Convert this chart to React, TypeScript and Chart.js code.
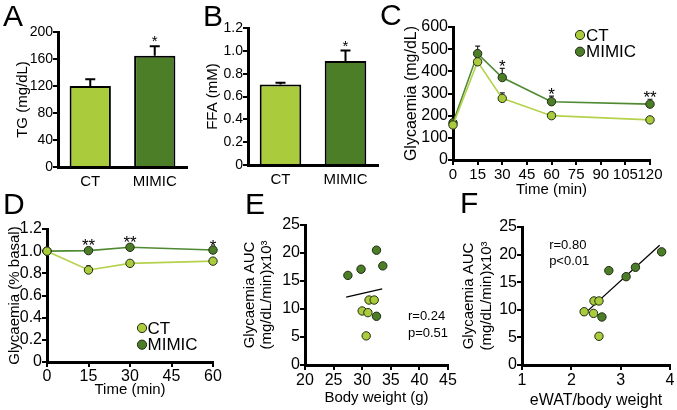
import React, { useEffect, useRef } from 'react';
import { Chart, registerables } from 'chart.js';

Chart.register(...registerables);

const FONT = '"Liberation Sans", Arial, Helvetica, sans-serif';

// ---------------- data ----------------
const groups = ['CT', 'MIMIC'];
const tgMean = [120, 165];
const tgSem = [10, 14];
const tgStars = ['', '*'];

const ffaMean = [0.705, 0.912];
const ffaSem = [0.015, 0.09];
const ffaStars = ['', '*'];

const gttTime = [0, 15, 30, 60, 120];
const gttCT = [158, 443, 278, 200, 181];
const gttCTSem = [6, 8, 25, 6, 6];
const gttMIMIC = [168, 480, 372, 263, 252];
const gttMIMICSem = [8, 34, 41, 25, 22];
const gttStars = ['', '', '*', '*', '**'];

const ittTime = [0, 15, 30, 60];
const ittCT = [1.0, 0.83, 0.89, 0.91];
const ittCTSem = [0, 0.04, 0.02, 0.015];
const ittMIMIC = [1.0, 1.005, 1.035, 1.01];
const ittMIMICSem = [0, 0.025, 0.02, 0.01];
const ittStars = ['', '**', '**', '*'];

const aucCT = [11.6, 11.6, 9.65, 9.35, 5.2];
const bwCT = [31.2, 32.1, 30.0, 31.0, 30.7];
const ewatCT = [2.46, 2.56, 2.26, 2.45, 2.56];
const aucMIMIC = [20.5, 17.7, 16.0, 17.1, 8.7];
const bwMIMIC = [32.5, 33.6, 27.5, 29.8, 32.5];
const ewatMIMIC = [3.83, 3.3, 3.11, 2.76, 2.62];
const bwFitX = [27.2, 33.5];
const bwFitY = [12.1, 13.6];
const ewatFitX = [2.22, 3.79];
const ewatFitY = [8.9, 21.7];
const bwStats = ['r=0.24', 'p=0.51'];
const ewatStats = ['r=0.80', 'p<0.01'];

// ---------------- styles ----------------
const BLACK = '#000';
const LIGHT = '#a9cb3c';
const DARK = '#4b7e27';
const LIGHT_LINE = '#b4d24c';
const DARK_LINE = '#4f8a32';
const OUTLINE = '#1f2a14';
const PT = 12;
const PR = 24;
const AXIS_W = 3;
const TICK_W = 2;
const TICK_L = 5;

const pts = (xs: number[], ys: number[]) => xs.map((x, i) => ({ x, y: ys[i] }));
const addArr = (a: number[], b: number[]) => a.map((v, i) => v + b[i]);
const dec1 = (v: any) => (Number(v) === 0 ? '0' : Number(v).toFixed(1));

function yAxis(o: any) {
  const ticks: any = {
    stepSize: o.step,
    font: { family: FONT, size: o.size, lineHeight: 1.2 },
    color: BLACK,
    padding: 0,
    autoSkip: false,
  };
  if (o.fmt) ticks.callback = o.fmt;
  return {
    type: 'linear',
    min: o.min,
    max: o.max,
    ticks,
    grid: {
      display: true,
      drawOnChartArea: false,
      drawTicks: true,
      tickLength: TICK_L,
      color: BLACK,
      tickColor: BLACK,
      lineWidth: TICK_W,
      tickWidth: TICK_W,
    },
    border: { display: true, color: BLACK, width: AXIS_W },
    title: {
      display: true,
      text: o.title,
      color: BLACK,
      font: { family: FONT, size: o.titleSize, lineHeight: o.titleLH ?? 1.2 },
      padding: 0,
    },
    afterFit: (s: any) => {
      s.width = o.W;
    },
  };
}

function xLinear(o: any) {
  return {
    type: 'linear',
    min: o.min,
    max: o.max,
    ticks: {
      stepSize: o.step,
      font: { family: FONT, size: o.size, lineHeight: 1.2 },
      color: BLACK,
      padding: o.pad,
      autoSkip: false,
      maxRotation: 0,
      minRotation: 0,
    },
    grid: {
      display: true,
      drawOnChartArea: false,
      drawTicks: true,
      tickLength: TICK_L,
      color: BLACK,
      tickColor: BLACK,
      lineWidth: TICK_W,
      tickWidth: TICK_W,
    },
    border: { display: true, color: BLACK, width: AXIS_W },
    title: {
      display: true,
      text: o.title,
      color: BLACK,
      font: { family: FONT, size: o.titleSize, lineHeight: 1.2 },
      padding: 0,
    },
    afterFit: (s: any) => {
      s.height = o.H;
    },
  };
}

function xCategory(o: any) {
  return {
    type: 'category',
    offset: true,
    ticks: { font: { family: FONT, size: o.size, lineHeight: 1.2 }, color: BLACK, padding: o.pad, maxRotation: 0 },
    grid: { display: true, drawOnChartArea: false, drawTicks: false, color: BLACK },
    border: { display: true, color: BLACK, width: AXIS_W },
    afterFit: (s: any) => {
      s.height = o.H;
    },
  };
}

function overlay(o: any) {
  return {
    id: 'overlay',
    beforeDatasetsDraw(chart: any) {
      const ctx = chart.ctx;
      const ys = chart.scales.y;
      (o.errorBars || []).forEach((eb: any) => {
        const meta = chart.getDatasetMeta(eb.dataset);
        ctx.save();
        ctx.strokeStyle = eb.color || BLACK;
        ctx.lineWidth = eb.width;
        eb.values.forEach((v: number, i: number) => {
          const e = eb.errors[i];
          if (!e) return;
          const x = meta.data[i].x;
          const y0 = ys.getPixelForValue(v);
          const y1 = ys.getPixelForValue(v + e);
          ctx.beginPath();
          ctx.moveTo(x, y0);
          ctx.lineTo(x, y1);
          ctx.moveTo(x - eb.cap / 2, y1);
          ctx.lineTo(x + eb.cap / 2, y1);
          ctx.stroke();
        });
        ctx.restore();
      });
    },
    afterDatasetsDraw(chart: any) {
      const ctx = chart.ctx;
      const xs = chart.scales.x;
      const ys = chart.scales.y;
      const area = chart.chartArea;
      ctx.save();
      if (o.stars) {
        const s = o.stars;
        const meta = chart.getDatasetMeta(s.dataset);
        ctx.fillStyle = BLACK;
        ctx.font = `${s.size}px ${FONT}`;
        ctx.textAlign = 'center';
        ctx.textBaseline = 'alphabetic';
        s.labels.forEach((lab: string, i: number) => {
          if (!lab) return;
          ctx.fillText(lab, meta.data[i].x, ys.getPixelForValue(s.tops[i]) + s.offset);
        });
      }
      if (o.legend) {
        const L = o.legend;
        L.items.forEach((it: any, i: number) => {
          const cx = area.left + L.dx;
          const cy = area.top + L.dy + i * L.step;
          ctx.beginPath();
          ctx.arc(cx, cy, L.radius, 0, Math.PI * 2);
          ctx.fillStyle = it.fill;
          ctx.fill();
          ctx.lineWidth = 1;
          ctx.strokeStyle = OUTLINE;
          ctx.stroke();
          ctx.fillStyle = BLACK;
          ctx.font = `${L.size}px ${FONT}`;
          ctx.textAlign = 'left';
          ctx.textBaseline = 'middle';
          ctx.fillText(it.label, cx + L.gap, cy + 1);
        });
      }
      if (o.notes) {
        const N = o.notes;
        ctx.fillStyle = BLACK;
        ctx.font = `${N.size}px ${FONT}`;
        ctx.textAlign = 'left';
        ctx.textBaseline = 'alphabetic';
        const x = xs.getPixelForValue(N.x);
        const y = ys.getPixelForValue(N.y);
        N.lines.forEach((t: string, i: number) => ctx.fillText(t, x, y + i * N.step));
      }
      ctx.restore();
    },
  };
}

const baseOptions = () => ({
  responsive: false,
  animation: false,
  devicePixelRatio: 1,
  events: [],
  layout: { padding: { left: 0, top: PT, right: PR, bottom: 0 } },
  plugins: { legend: { display: false }, tooltip: { enabled: false } },
});

function frame(area: any, canvasLeft: number, H: number) {
  const top = area.t - PT;
  return {
    left: canvasLeft,
    top,
    width: area.r + PR - canvasLeft,
    height: area.b + H - top,
    W: area.l - canvasLeft,
    H,
  };
}

const pointDs = (label: string, data: any[], fill: string, line: string) => ({
  label,
  data,
  borderColor: line,
  borderWidth: 1.6,
  pointBackgroundColor: fill,
  pointBorderColor: OUTLINE,
  pointBorderWidth: 1,
  pointRadius: 4.2,
  tension: 0,
  clip: false,
});

// ---------------- panels ----------------
const fA = frame({ l: 58, t: 32, r: 187, b: 167 }, 14, 30);
const fB = frame({ l: 248, t: 28, r: 378, b: 165 }, 204, 30);
const fC = frame({ l: 453, t: 27, r: 650, b: 160 }, 402, 39);
const fD = frame({ l: 47, t: 229, r: 213, b: 362 }, 6, 37);
const fE = frame({ l: 305, t: 225, r: 448, b: 365 }, 242, 42);
const fF = frame({ l: 522, t: 227, r: 670, b: 365 }, 459, 45);

function barConfig(f: any, means: number[], sems: number[], stars: string[], yo: any) {
  return {
    type: 'bar',
    data: {
      labels: groups,
      datasets: [
        {
          data: means,
          backgroundColor: [LIGHT, DARK],
          borderColor: BLACK,
          borderWidth: 2,
          borderSkipped: 'start',
          barPercentage: 0.64,
          categoryPercentage: 1,
        },
      ],
    },
    options: {
      ...baseOptions(),
      scales: { x: xCategory({ size: 15, pad: 6, H: f.H }), y: yAxis({ ...yo, W: f.W }) },
    },
    plugins: [
      overlay({
        errorBars: [{ dataset: 0, values: means, errors: sems, cap: 10, width: 2 }],
        stars: { dataset: 0, tops: addArr(means, sems), labels: stars, size: 15, offset: 0 },
      }),
    ],
  };
}

const panels: any[] = [
  {
    f: fA,
    build: () =>
      barConfig(fA, tgMean, tgSem, tgStars, { min: 0, max: 200, step: 40, size: 14, title: 'TG (mg/dL)', titleSize: 15 }),
  },
  {
    f: fB,
    build: () =>
      barConfig(fB, ffaMean, ffaSem, ffaStars, {
        min: 0,
        max: 1.2,
        step: 0.2,
        size: 14,
        title: 'FFA (mM)',
        titleSize: 15,
        fmt: dec1,
      }),
  },
  {
    f: fC,
    build: () => ({
      type: 'line',
      data: {
        datasets: [
          pointDs('CT', pts(gttTime, gttCT), LIGHT, LIGHT_LINE),
          pointDs('MIMIC', pts(gttTime, gttMIMIC), DARK, DARK_LINE),
        ],
      },
      options: {
        ...baseOptions(),
        scales: {
          x: xLinear({ min: 0, max: 120, step: 15, size: 15, pad: 1, title: 'Time (min)', titleSize: 15, H: fC.H }),
          y: yAxis({ min: 0, max: 600, step: 100, size: 16, title: 'Glycaemia (mg/dL)', titleSize: 16, W: fC.W }),
        },
      },
      plugins: [
        overlay({
          errorBars: [
            { dataset: 0, values: gttCT, errors: gttCTSem, cap: 5, width: 1.2, color: '#222' },
            { dataset: 1, values: gttMIMIC, errors: gttMIMICSem, cap: 5, width: 1.2, color: '#222' },
          ],
          stars: { dataset: 1, tops: addArr(gttMIMIC, gttMIMICSem), labels: gttStars, size: 17, offset: 4 },
          legend: {
            items: [
              { label: 'CT', fill: LIGHT },
              { label: 'MIMIC', fill: DARK },
            ],
            dx: 127,
            dy: 8,
            step: 16.7,
            radius: 4.6,
            gap: 6,
            size: 17,
          },
        }),
      ],
    }),
  },
  {
    f: fD,
    build: () => ({
      type: 'line',
      data: {
        datasets: [
          pointDs('CT', pts(ittTime, ittCT), LIGHT, LIGHT_LINE),
          pointDs('MIMIC', pts(ittTime, ittMIMIC), DARK, DARK_LINE),
        ],
      },
      options: {
        ...baseOptions(),
        scales: {
          x: xLinear({ min: 0, max: 60, step: 15, size: 16, pad: 0, title: 'Time (min)', titleSize: 15, H: fD.H }),
          y: yAxis({
            min: 0,
            max: 1.2,
            step: 0.2,
            size: 16,
            title: 'Glycaemia (% basal)',
            titleSize: 15,
            W: fD.W,
            fmt: dec1,
          }),
        },
      },
      plugins: [
        overlay({
          errorBars: [
            { dataset: 0, values: ittCT, errors: ittCTSem, cap: 4, width: 1.2, color: '#222' },
            { dataset: 1, values: ittMIMIC, errors: ittMIMICSem, cap: 4, width: 1.2, color: '#222' },
          ],
          stars: { dataset: 1, tops: addArr(ittMIMIC, ittMIMICSem), labels: ittStars, size: 17, offset: 3 },
          legend: {
            items: [
              { label: 'CT', fill: LIGHT },
              { label: 'MIMIC', fill: DARK },
            ],
            dx: 95,
            dy: 99,
            step: 16.7,
            radius: 4.6,
            gap: 5.5,
            size: 17,
          },
        }),
      ],
    }),
  },
  {
    f: fE,
    build: () => ({
      type: 'scatter',
      data: {
        datasets: [
          {
            type: 'line',
            data: pts(bwFitX, bwFitY),
            borderColor: BLACK,
            borderWidth: 1.3,
            pointRadius: 0,
            clip: false,
          },
          { data: pts(bwMIMIC, aucMIMIC), backgroundColor: DARK, borderColor: OUTLINE, borderWidth: 1, pointRadius: 4.2, clip: false },
          { data: pts(bwCT, aucCT), backgroundColor: LIGHT, borderColor: OUTLINE, borderWidth: 1, pointRadius: 4.2, clip: false },
        ],
      },
      options: {
        ...baseOptions(),
        scales: {
          x: xLinear({ min: 20, max: 45, step: 5, size: 16, pad: 1, title: 'Body weight (g)', titleSize: 15, H: fE.H }),
          y: yAxis({
            min: 0,
            max: 25,
            step: 5,
            size: 16,
            title: ['Glycaemia AUC', '(mg/dL/min)x10\u00b3'],
            titleSize: 15,
            titleLH: 1.11,
            W: fE.W,
          }),
        },
      },
      plugins: [overlay({ notes: { lines: bwStats, x: 38.0, y: 8.0, size: 13, step: 16.7 } })],
    }),
  },
  {
    f: fF,
    build: () => ({
      type: 'scatter',
      data: {
        datasets: [
          { data: pts(ewatMIMIC, aucMIMIC), backgroundColor: DARK, borderColor: OUTLINE, borderWidth: 1, pointRadius: 4.2, clip: false },
          { data: pts(ewatCT, aucCT), backgroundColor: LIGHT, borderColor: OUTLINE, borderWidth: 1, pointRadius: 4.2, clip: false },
          {
            type: 'line',
            data: pts(ewatFitX, ewatFitY),
            borderColor: BLACK,
            borderWidth: 1.3,
            pointRadius: 0,
            clip: false,
          },
        ],
      },
      options: {
        ...baseOptions(),
        scales: {
          x: xLinear({ min: 1, max: 4, step: 1, size: 16, pad: 1, title: 'eWAT/body weight', titleSize: 16, H: fF.H }),
          y: yAxis({
            min: 0,
            max: 25,
            step: 5,
            size: 16,
            title: ['Glycaemia AUC', '(mg/dL/min)x10\u00b3'],
            titleSize: 15,
            titleLH: 1.25,
            W: fF.W,
          }),
        },
      },
      plugins: [overlay({ notes: { lines: ewatStats, x: 1.55, y: 21.1, size: 13, step: 16.7 } })],
    }),
  },
];

const letters = [
  { t: 'A', x: 3, y: 1 },
  { t: 'B', x: 203, y: 1 },
  { t: 'C', x: 380, y: 0 },
  { t: 'D', x: 3, y: 189 },
  { t: 'E', x: 245, y: 189 },
  { t: 'F', x: 460, y: 188 },
];

function ChartCanvas({ panel }: { panel: any }) {
  const ref = useRef<HTMLCanvasElement>(null);
  useEffect(() => {
    const chart = new Chart(ref.current as HTMLCanvasElement, panel.build());
    return () => chart.destroy();
  }, []);
  const f = panel.f;
  return (
    <canvas
      ref={ref}
      width={f.width}
      height={f.height}
      style={{ position: 'absolute', left: f.left, top: f.top, width: f.width, height: f.height }}
    />
  );
}

export default function App() {
  return (
    <div
      style={{
        position: 'absolute',
        left: 0,
        top: 0,
        width: 677,
        height: 410,
        overflow: 'hidden',
        background: '#fff',
        fontFamily: FONT,
      }}
    >
      {panels.map((p, i) => (
        <ChartCanvas key={i} panel={p} />
      ))}
      {letters.map((l) => (
        <div
          key={l.t}
          style={{ position: 'absolute', left: l.x, top: l.y, fontSize: 30, lineHeight: 1, color: '#000' }}
        >
          {l.t}
        </div>
      ))}
    </div>
  );
}
